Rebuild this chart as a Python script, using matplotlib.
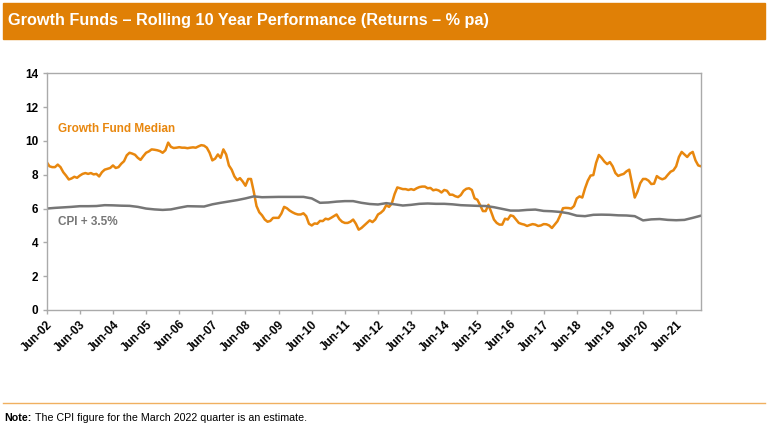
import matplotlib
matplotlib.use("Agg")
import matplotlib.pyplot as plt
from matplotlib.patches import Rectangle
from matplotlib.lines import Line2D

title = "Growth Funds \u2013 Rolling 10 Year Performance (Returns \u2013 % pa)"
note_bold = "Note:"
note_text = "The CPI figure for the March 2022 quarter is an estimate."
series_names = ["Growth Fund Median", "CPI + 3.5%"]

# Monthly, Jun-02 .. Mar-22 (238 months)
growth_median = [
    8.75, 8.5, 8.45, 8.45, 8.6, 8.45, 8.15, 7.95, 7.72, 7.78, 7.88, 7.82,
    7.95, 8.05, 8.1, 8.05, 8.1, 8.02, 8.05, 7.9, 8.15, 8.3, 8.35, 8.4,
    8.55, 8.4, 8.45, 8.65, 8.8, 9.15, 9.3, 9.25, 9.18, 9.0, 8.88, 9.1,
    9.3, 9.38, 9.5, 9.48, 9.45, 9.4, 9.3, 9.45, 9.9, 9.65, 9.58, 9.6,
    9.63, 9.6, 9.6, 9.57, 9.6, 9.62, 9.6, 9.68, 9.75, 9.72, 9.6, 9.3,
    8.85, 8.95, 9.2, 9.0, 9.5, 9.2, 8.55, 8.3, 7.9, 7.68, 7.8, 7.6,
    7.35, 7.75, 7.75, 7.0, 6.15, 5.78, 5.6, 5.35, 5.22, 5.27, 5.45, 5.45,
    5.45, 5.7, 6.1, 6.02, 5.88, 5.78, 5.7, 5.65, 5.65, 5.72, 5.55, 5.1,
    5.0, 5.12, 5.1, 5.27, 5.26, 5.4, 5.36, 5.45, 5.55, 5.65, 5.38, 5.22,
    5.15, 5.15, 5.22, 5.35, 5.1, 4.75, 4.85, 5.0, 5.15, 5.3, 5.2, 5.35,
    5.65, 5.75, 5.9, 6.2, 6.1, 6.3, 6.85, 7.25, 7.2, 7.15, 7.15, 7.1,
    7.15, 7.1, 7.2, 7.27, 7.3, 7.3, 7.2, 7.22, 7.08, 7.12, 7.07, 6.95,
    7.1, 7.05, 6.82, 6.82, 6.73, 6.68, 6.8, 7.05, 7.17, 7.2, 7.1, 6.6,
    6.52, 6.2, 5.85, 5.85, 6.22, 5.8, 5.35, 5.15, 5.05, 5.05, 5.4, 5.35,
    5.6, 5.55, 5.35, 5.15, 5.09, 5.05, 4.97, 5.03, 5.08, 5.05, 4.97, 5.0,
    5.08, 5.07, 5.0, 4.85, 5.05, 5.25, 5.6, 6.02, 6.04, 6.03, 6.0, 6.15,
    6.6, 6.72, 6.65, 7.2, 7.65, 7.95, 7.98, 8.7, 9.17, 9.0, 8.78, 8.63,
    8.75, 8.5, 8.1, 7.93, 8.0, 8.05, 8.2, 8.3, 7.5, 6.65, 7.0, 7.5,
    7.75, 7.75, 7.65, 7.45, 7.47, 7.92, 7.8, 7.73, 7.8, 8.0, 8.18, 8.26,
    8.5, 9.05, 9.35, 9.2, 9.05, 9.25, 9.35, 8.85, 8.55, 8.5,
]

# Quarterly, Jun-02 .. Mar-22 (80 quarters)
cpi_plus = [
    6.0, 6.04, 6.07, 6.1, 6.14, 6.14, 6.15, 6.2, 6.19, 6.17,
    6.16, 6.1, 6.0, 5.95, 5.92, 5.95, 6.05, 6.14, 6.13, 6.12,
    6.25, 6.34, 6.42, 6.5, 6.6, 6.72, 6.67, 6.68, 6.69, 6.69,
    6.69, 6.69, 6.6, 6.34, 6.36, 6.41, 6.44, 6.44, 6.34, 6.27,
    6.24, 6.32, 6.25, 6.18, 6.22, 6.28, 6.3, 6.28, 6.28, 6.25,
    6.2, 6.18, 6.16, 6.15, 6.08, 5.98, 5.88, 5.88, 5.92, 5.94,
    5.86, 5.84, 5.8, 5.72, 5.58, 5.55, 5.63, 5.64, 5.63, 5.6,
    5.59, 5.55, 5.3, 5.36, 5.38, 5.33, 5.31, 5.33, 5.45, 5.58,
]

tick_labels = ["Jun-%02d" % y for y in range(2, 22)]
y_ticks = [0, 2, 4, 6, 8, 10, 12, 14]

growth_x = list(range(len(growth_median)))
cpi_x = [3 * i for i in range(len(cpi_plus))]

ORANGE = "#E8870E"
GREY = "#767676"
FONT = ["Liberation Sans", "DejaVu Sans"]
plt.rcParams["font.family"] = FONT

W, H = 768, 433
fig = plt.figure(figsize=(W / 100, H / 100), dpi=100)

fig.patches.append(Rectangle((3 / W, 1 - 39 / H), 762 / W, 36 / H,
                             transform=fig.transFigure, color="#E08006", zorder=0))
fig.text(8 / W, 1 - 20.5 / H, title, color="white", fontweight="bold",
         fontsize=11.7, ha="left", va="center")

ax = fig.add_axes([46.7 / W, 1 - 310 / H, (701 - 46.7) / W, (310 - 73.3) / H])
ax.plot(growth_x, growth_median, color=ORANGE, lw=1.8, solid_joinstyle="round")
ax.plot(cpi_x, cpi_plus, color=GREY, lw=1.8, solid_joinstyle="round")
ax.set_xlim(0, len(growth_median) - 1)
ax.set_ylim(0, 14)
ax.set_yticks(y_ticks)
ax.set_yticklabels([str(v) for v in y_ticks], fontweight="bold", fontsize=8.5)
ax.set_xticks([12 * i for i in range(len(tick_labels))])
ax.set_xticklabels(tick_labels, rotation=45, ha="right", va="top",
                   rotation_mode="anchor", fontweight="bold", fontsize=8.5)
for s in ax.spines.values():
    s.set_color("#AAAAAA")
    s.set_linewidth(1)
ax.tick_params(axis="both", length=3, color="#AAAAAA", width=1, pad=3)

fig.text(58 / W, 1 - 129 / H, series_names[0], color=ORANGE, fontweight="bold",
         fontsize=8.5, ha="left", va="center")
fig.text(58 / W, 1 - 222 / H, series_names[1], color=GREY, fontweight="bold",
         fontsize=8.5, ha="left", va="center")

fig.add_artist(Line2D([3 / W, 765 / W], [1 - 403 / H, 1 - 403 / H],
                      transform=fig.transFigure, color="#F0B060", lw=1))
fig.text(4 / W, 1 - 418 / H, note_bold, fontweight="bold", fontsize=7.7,
         ha="left", va="center")
fig.text(35 / W, 1 - 418 / H, note_text, fontsize=7.7,
         ha="left", va="center")

fig.savefig("out.png", dpi=100)
